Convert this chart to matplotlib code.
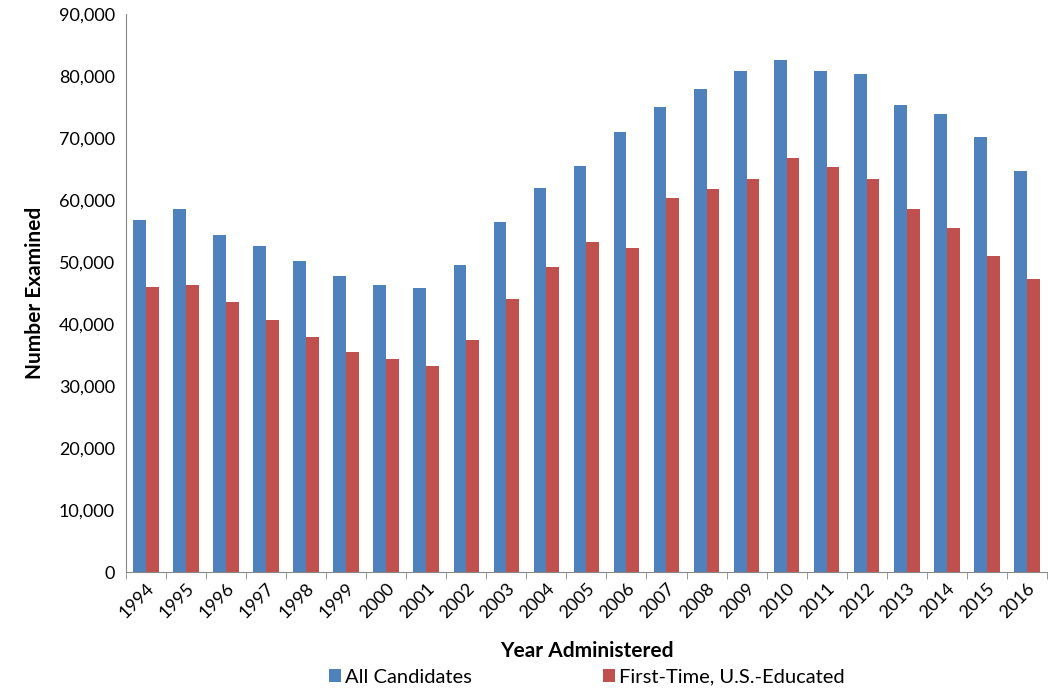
import numpy as np
import matplotlib.pyplot as plt
from matplotlib.ticker import FuncFormatter

years = [str(y) for y in range(1994, 2017)]
all_candidates = [56700, 58600, 54300, 52600, 50200, 47800, 46300, 45800, 49500, 56400,
                  62000, 65400, 70900, 75000, 77900, 80800, 82500, 80800, 80300, 75300,
                  73800, 70200, 64700]
first_time = [46000, 46300, 43600, 40600, 37900, 35500, 34300, 33300, 37400, 44100,
              49200, 53300, 52300, 60300, 61800, 63400, 66800, 65300, 63400, 58600,
              55500, 50900, 47300]

plt.rcParams['font.family'] = ['Lato', 'DejaVu Sans']
fig = plt.figure(figsize=(10.5, 6.92), dpi=100)
ax = fig.add_axes([0.12, 0.173, 0.877, 0.807])

x = np.arange(len(years))
w = 0.32
ax.bar(x - w / 2, all_candidates, w, color='#4F81BD', label='All Candidates')
ax.bar(x + w / 2, first_time, w, color='#C0504D', label='First-Time, U.S.-Educated')

ax.set_xlim(-0.5, len(years) - 0.5)
ax.set_ylim(0, 90000)
ax.set_yticks(range(0, 90001, 10000))
ax.yaxis.set_major_formatter(FuncFormatter(lambda v, p: f'{int(v):,}'))
ax.tick_params(axis='y', length=0, labelsize=13, pad=8)
ax.set_xticks(x)
ax.set_xticklabels(years, rotation=45, ha='right', rotation_mode='anchor', fontsize=13)
ax.set_xticks(np.arange(-0.5, len(years)), minor=True)
ax.tick_params(axis='x', which='major', length=0, pad=6)
ax.tick_params(axis='x', which='minor', length=5, color='#888888')
for s in ['top', 'right']:
    ax.spines[s].set_visible(False)
for s in ['left', 'bottom']:
    ax.spines[s].set_color('#888888')

ax.set_ylabel('Number Examined', fontsize=15, fontweight='bold', labelpad=10)
ax.set_xlabel('Year Administered', fontsize=15, fontweight='bold', labelpad=14)
ax.legend(loc='upper center', bbox_to_anchor=(0.5, -0.14), ncol=2, frameon=False,
          fontsize=14.5, handlelength=0.6, handleheight=0.6, columnspacing=6.5, handletextpad=0.2)

fig.savefig('out.png')
